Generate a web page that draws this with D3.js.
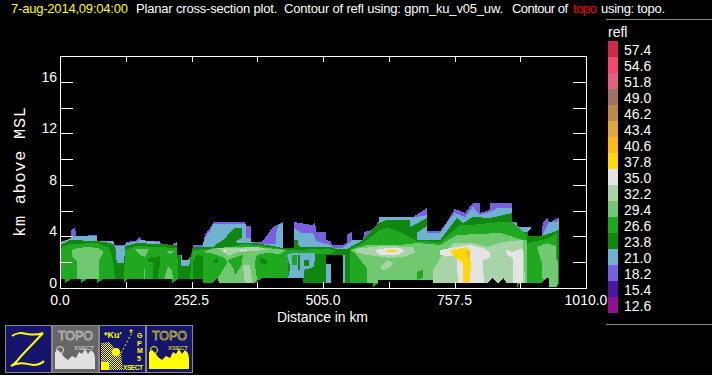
<!DOCTYPE html>
<html>
<head>
<meta charset="utf-8">
<script src="https://cdn.jsdelivr.net/npm/d3@7"></script>
<style>
html, body { margin: 0; padding: 0; background: #000; overflow: hidden; }
svg { display: block; }
text { font-family: "Liberation Sans", Arial, sans-serif; fill: #fff; white-space: pre; }
</style>
</head>
<body>
<script>
// legend
const levels = [57.4, 54.6, 51.8, 49.0, 46.2, 43.4, 40.6, 37.8, 35.0, 32.2, 29.4, 26.6, 23.8, 21.0, 18.2, 15.4, 12.6];
const levelColors = ["#d02848", "#f0486e", "#e06080", "#a07060", "#c08848", "#e0a838", "#ffb81c", "#ffd80c", "#e4e4e4",
    "#a8d4a8", "#70c870", "#20a820", "#108810", "#70b0d0", "#7860e0", "#4818a0", "#901090"];

// axis values
const xTicks = [126.25, 252.5, 378.75, 505, 631.25, 757.5, 883.75];
const xLabels = [0, 252.5, 505, 757.5, 1010];
const yTicks = [2, 4, 6, 8, 10, 12, 14, 16];
const yLabels = [0, 4, 8, 12, 16];

// contours as [km, km above MSL]
const echo182 = [[0,3.57],[13,3.72],[21,3.88],[21,4.42],[29,4.73],[31,4.03],[54,4.03],[54,4.11],[71,4.11],[71,3.65],[102,3.65],[102,3.34],[125,3.34],[127,3.57],[144,3.65],[154,3.96],[156,3.65],[192,3.65],[194,3.34],[215,3.34],[225,3.57],[225,2.56],[234,2.56],[234,2.17],[246,2.17],[248,2.33],[255,2.56],[255,3.34],[275,3.34],[278,4.11],[288,4.66],[296,5.12],[355,5.12],[357,4.81],[367,4.81],[367,3.57],[388,3.57],[409,4.73],[428,5.12],[428,3.10],[449,3.10],[449,5.12],[484,4.89],[490,5.04],[492,4.35],[511,4.35],[511,3.72],[520,3.65],[522,3.34],[543,3.34],[551,3.49],[551,4.11],[561,4.35],[561,3.72],[582,3.72],[584,4.35],[599,4.50],[612,5.12],[612,5.51],[678,5.51],[705,6.21],[705,4.42],[730,4.42],[743,5.12],[758,6.13],[778,5.82],[793,6.60],[806,6.60],[806,5.82],[826,6.05],[826,6.60],[868,6.60],[868,5.12],[877,5.12],[879,4.73],[906,4.73],[899,4.35],[899,4.03],[925,4.03],[927,5.04],[937,5.43],[939,5.04],[956,5.43],[958,5.43],[958,0],[0,0]];
const echo210 = [[0,3.57],[13,3.72],[21,3.88],[31,4.03],[71,4.03],[71,3.65],[102,3.65],[105,3.26],[125,3.26],[127,3.49],[148,3.57],[154,3.72],[192,3.57],[194,3.26],[215,3.26],[225,3.49],[225,2.56],[234,2.56],[234,2.17],[246,2.17],[255,2.56],[255,3.18],[273,3.18],[278,3.88],[288,4.42],[294,4.96],[357,4.96],[357,3.88],[367,3.88],[367,3.57],[388,3.41],[415,3.41],[415,4.27],[419,4.89],[428,5.04],[428,3.10],[449,3.10],[449,4.66],[465,4.27],[486,4.27],[492,3.65],[511,3.41],[520,3.34],[524,3.10],[541,3.10],[551,3.34],[561,3.72],[582,3.72],[588,4.00],[612,5.04],[612,5.51],[685,5.51],[705,5.65],[705,4.27],[730,4.27],[743,5.04],[758,5.82],[778,5.51],[793,6.30],[806,5.67],[826,5.90],[840,6.21],[868,6.21],[868,5.12],[877,5.04],[877,4.73],[906,4.73],[899,4.35],[899,4.03],[925,4.03],[931,4.50],[939,5.12],[952,5.12],[958,5.28],[958,0],[0,0]];
const echo238 = [[0,3.34],[19,3.72],[71,3.65],[96,3.49],[106,3.26],[109,1.94],[123,1.94],[125,3.26],[148,3.49],[225,3.34],[225,2.56],[232,2.56],[232,1.71],[248,1.71],[250,2.17],[255,3.18],[296,3.18],[298,3.34],[313,3.72],[336,4.66],[349,4.66],[349,3.88],[336,3.57],[345,3.49],[378,3.49],[397,3.34],[428,3.10],[449,3.10],[449,3.72],[457,3.72],[457,3.34],[461,3.18],[518,3.18],[532,3.03],[551,3.03],[582,3.72],[611,5.04],[628,5.28],[672,5.28],[672,4.73],[705,5.43],[705,4.81],[685,4.27],[685,3.72],[730,3.72],[762,5.43],[774,5.04],[793,5.51],[826,5.43],[868,5.82],[870,4.35],[899,4.35],[899,4.03],[925,4.03],[958,4.50],[958,0],[0,0]];
const echo266a = [[2,3.10],[19,3.41],[71,3.49],[96,3.10],[102,1.94],[106,0.7],[123,0.7],[125,2.95],[148,3.26],[225,3.10],[227,0.7],[250,0.7],[252,2.3],[255,2.95],[326,3.18],[351,3.41],[357,3.41],[378,3.34],[438,2.95],[438,0],[2,0]];
const echo266b = [[438,2.95],[518,3.03],[530,2.87],[518,2.64],[438,2.64]];
const echo266c = [[557,3.03],[582,3.49],[614,4.50],[628,4.66],[643,4.50],[653,4.35],[685,3.65],[730,3.57],[768,4.89],[787,4.89],[845,5.12],[868,5.12],[897,4.11],[897,0],[557,0]];
const echo266d = [[897,3.49],[916,3.65],[935,3.80],[954,4.27],[954,0],[897,0]];
const echo266e = [[685,1.24],[697,1.40],[697,0.78],[685,0.62]];
const echo266f = [[321,2.17],[351,2.56],[349,1.78],[336,1.01],[332,1.63]];
const echo238a = [[169,2.33],[192,2.48],[192,1.94],[188,0.7],[179,0.7],[179,2.02],[169,2.02]];
const echo238b = [[296,2.17],[300,2.33],[303,2.17],[303,1.94],[296,1.94]];
const echo238c = [[384,2.41],[397,2.17],[397,1.78],[384,1.94]];
const echo238d = [[255,2.02],[263,2.56],[275,2.48],[275,0.7],[255,0.7]];
const echo294a = [[23,2.95],[33,3.10],[54,3.18],[73,3.10],[84,2.79],[75,2.17],[75,0.7],[33,0.7],[33,2.02],[23,2.41]];
const echo294b = [[144,3.03],[171,3.03],[163,2.41],[154,2.56]];
const echo294c = [[204,2.87],[221,2.87],[211,2.64]];
const echo294d = [[200,0.7],[207,1.63],[215,1.40],[217,0.7]];
const echo294e = [[161,1.47],[163,1.47],[163,0.7],[161,0.7]];
const echo294f = [[273,2.79],[298,3.10],[332,3.18],[378,3.18],[436,2.95],[422,2.64],[397,2.72],[378,2.56],[374,1.94],[378,0.7],[374,0.39],[305,0.39],[303,0.78],[321,1.94],[317,2.33],[288,2.72]];
const echo294g = [[557,2.95],[589,3.34],[653,3.34],[685,3.49],[730,3.34],[762,4.11],[845,4.27],[889,3.72],[897,3.72],[897,0.39],[589,0.39],[589,1.55],[566,2.72]];
const echo294h = [[916,3.18],[935,3.49],[952,3.26],[952,2.33],[956,2.02],[956,0.39],[952,0.08],[939,0.08],[939,0.7],[925,0.7],[925,1.94]];
const echo322a = [[298,3.10],[332,3.10],[378,3.18],[400,3.00],[378,2.87],[332,2.79],[317,2.87]];
const echo322b = [[351,1.78],[365,1.78],[369,0.39],[355,0.39]];
const echo322c = [[313,2.79],[340,2.80],[326,2.50]];
const echo322d = [[563,3.03],[620,3.26],[678,3.18],[682,2.72],[659,2.41],[634,2.33],[591,2.56],[572,2.72]];
const echo322e = [[614,1.55],[628,2.17],[639,1.94],[634,1.55],[620,1.40]];
const echo322f = [[716,0.39],[716,1.40],[734,2.56],[755,3.49],[793,3.49],[820,3.18],[851,3.57],[889,3.72],[893,0.39]];
const echo350a = [[313,2.95],[321,2.95],[321,2.79],[313,2.79]];
const echo350b = [[346,2.95],[359,2.95],[359,2.87],[346,2.87]];
const echo350c = [[605,2.95],[628,3.10],[653,3.10],[662,2.87],[647,2.56],[614,2.56]];
const echo350d = [[730,2.95],[749,3.10],[787,3.34],[812,3.10],[826,2.79],[826,2.33],[812,2.17],[814,0.39],[764,0.39],[762,2.41],[730,2.56]];
const echo350e = [[856,2.95],[870,2.79],[887,3.10],[889,2.79],[889,0.39],[870,0.39],[870,2.33],[858,2.56]];
const echo378a = [[628,2.95],[647,2.95],[647,2.79],[628,2.79]];
const echo378b = [[749,2.95],[783,3.18],[789,2.02],[787,0.39],[774,0.39],[774,1.94],[758,2.41],[753,2.56]];
const echo406a = [[781,2.95],[787,2.95],[787,2.33],[781,2.33]];
const patch210a = [[436,2.56],[447,2.72],[490,2.72],[488,1.63],[468,1.40],[468,0.78],[438,0.78],[442,1.63]];
const patch210b = [[511,1.86],[520,1.86],[520,0.39],[511,0.39]];
const patch210c = [[543,2.56],[547,2.56],[547,0.39],[543,0.39]];
const patch266a = [[445,2.56],[455,2.56],[455,1.78],[445,1.78]];
const patch238a = [[457,2.56],[461,2.56],[461,1.40],[457,1.40]];
const patch238b = [[468,2.2],[478,2.2],[478,1.7],[468,1.7]];
const noEcho = [[511,2.56],[543,2.56],[543,0],[520,0],[520,1.86],[511,1.86]];
const ground = [[0,0.70],[10,0.70],[10,0.39],[21,0.70],[40,0.70],[40,0.39],[52,0.70],[71,0.70],[71,0.39],[83,0.70],[123,0.70],[123,0.39],[129,0.70],[215,0.70],[215,0.39],[227,0.70],[275,0.70],[275,0.39],[292,0.39],[303,0.78],[305,0.39],[374,0.39],[388,0.78],[467,0.78],[467,0.39],[601,0.39],[601,0.03],[611,0.39],[611,0.62],[716,0.62],[716,0.39],[820,0.39],[831,0.78],[839,0.39],[843,0.39],[851,0.78],[858,0.39],[877,0.39],[877,0],[883,0.39],[925,0.39],[935,0.78],[939,0.78],[939,0.08],[954,0.08],[958,0.39],[1010,0.39],[1010,0],[0,0]];

// painted in this order, higher levels over lower ones
const layers = [
    [echo182, 18.2], [echo210, 21.0], [echo238, 23.8],
    [echo266a, 26.6], [echo266b, 26.6], [echo266c, 26.6], [echo266d, 26.6],
    [echo238d, 23.8],
    [echo294a, 29.4], [echo294b, 29.4], [echo294c, 29.4], [echo294d, 29.4], [echo294e, 29.4], [echo294f, 29.4], [echo294g, 29.4], [echo294h, 29.4],
    [echo266e, 26.6], [echo266f, 26.6], [echo238a, 23.8], [echo238b, 23.8], [echo238c, 23.8],
    [echo322a, 32.2], [echo322b, 32.2], [echo322c, 32.2], [echo322d, 32.2], [echo322e, 32.2], [echo322f, 32.2],
    [echo350a, 35.0], [echo350b, 35.0], [echo350c, 35.0], [echo350d, 35.0], [echo350e, 35.0],
    [echo378a, 37.8], [echo378b, 37.8], [echo406a, 40.6],
    [patch210a, 21.0], [patch210b, 21.0], [patch210c, 21.0], [patch266a, 26.6], [patch238a, 23.8], [patch238b, 23.8]
];

let svg = d3.select("body").append("svg")
    .attr("width", 712)
    .attr("height", 375);

let xScale = d3.scaleLinear().domain([0, 1010]).range([60, 586]);
let yScale = d3.scaleLinear().domain([0, 18]).range([288, 56]);
let colorScale = d3.scaleOrdinal(levels, levelColors);

let contourLine = d3.line()
    .x(d => xScale(d[0]))
    .y(d => yScale(d[1]));

let plot = svg.append("g").attr("shape-rendering", "crispEdges");

plot.selectAll(".contour")
    .data(layers)
    .join("path")
    .attr("class", "contour")
    .attr("d", d => contourLine(d[0]) + "Z")
    .attr("fill", d => colorScale(d[1]));

plot.append("path").attr("d", contourLine(noEcho) + "Z").attr("fill", "#000");
plot.append("path").attr("d", contourLine(ground) + "Z").attr("fill", "#000");

// frame and ticks
let ticks = svg.append("g")
    .attr("stroke", "#fff")
    .attr("shape-rendering", "crispEdges");

[[60, 73], [573, 586]].forEach(side => {
    ticks.selectAll(null)
        .data(yTicks)
        .join("line")
        .attr("x1", side[0]).attr("x2", side[1])
        .attr("y1", d => Math.round(yScale(d)) + 0.5)
        .attr("y2", d => Math.round(yScale(d)) + 0.5);
});
[[282, 288], [56, 62]].forEach(side => {
    ticks.selectAll(null)
        .data(xTicks)
        .join("line")
        .attr("y1", side[0]).attr("y2", side[1])
        .attr("x1", d => Math.round(xScale(d)) + 0.5)
        .attr("x2", d => Math.round(xScale(d)) + 0.5);
});

svg.append("rect")
    .attr("x", 60.5).attr("y", 56.5)
    .attr("width", 526).attr("height", 232)
    .attr("fill", "none")
    .attr("stroke", "#fff")
    .attr("shape-rendering", "crispEdges");

svg.selectAll(".ylabel")
    .data(yLabels)
    .join("text")
    .attr("class", "ylabel")
    .attr("x", 57)
    .attr("y", d => yScale(d))
    .attr("text-anchor", "end")
    .attr("font-size", 14)
    .text(d => d);

svg.selectAll(".xlabel")
    .data(xLabels)
    .join("text")
    .attr("class", "xlabel")
    .attr("x", d => xScale(d))
    .attr("y", 305)
    .attr("text-anchor", "middle")
    .attr("font-size", 14)
    .text(d => d3.format(".1f")(d));

svg.append("text")
    .attr("x", 277).attr("y", 322)
    .attr("font-size", 14)
    .attr("textLength", 91)
    .text("Distance in km");

svg.append("text")
    .attr("transform", "translate(25,237) rotate(-90)")
    .style("font-family", "'Liberation Mono', monospace")
    .attr("font-size", 17)
    .attr("textLength", 130)
    .text("km above MSL");

// title
function titlePiece(label, x, width, color) {
    svg.append("text")
        .attr("x", x).attr("y", 13)
        .attr("font-size", 13)
        .attr("textLength", width)
        .style("fill", color)
        .text(label);
}
titlePiece("7-aug-2014,09:04:00", 11, 117, "#ffff00");
titlePiece("Planar cross-section plot.  Contour of refl using: gpm_ku_v05_uw.", 136, 367, "#fff");
titlePiece("Contour of", 512, 56, "#fff");
titlePiece("topo", 573, 24, "#ff0000");
titlePiece("using: topo.", 601, 64, "#fff");

// legend
svg.append("line").attr("x1", 606).attr("x2", 712).attr("y1", 19.5).attr("y2", 19.5).attr("stroke", "#888");
svg.append("line").attr("x1", 606).attr("x2", 712).attr("y1", 324.5).attr("y2", 324.5).attr("stroke", "#888");
svg.append("text").attr("x", 608).attr("y", 37).attr("font-size", 14).text("refl");

let legendY = d3.scaleBand().domain(levels).range([41, 313]);

svg.selectAll(".swatch")
    .data(levels)
    .join("rect")
    .attr("class", "swatch")
    .attr("x", 608)
    .attr("y", d => legendY(d))
    .attr("width", 10)
    .attr("height", legendY.bandwidth())
    .attr("fill", d => colorScale(d));

svg.selectAll(".legendlabel")
    .data(levels)
    .join("text")
    .attr("class", "legendlabel")
    .attr("x", 624)
    .attr("y", d => legendY(d) + 14)
    .attr("font-size", 14)
    .text(d => d3.format(".1f")(d));

// buttons under the plot
const buttonFills = ["#15156e", "#666666", "#15156e", "#15156e"];

let buttons = svg.selectAll(".button")
    .data(buttonFills)
    .join("g")
    .attr("class", "button")
    .attr("transform", (d, i) => `translate(${5 + i * 47},325)`);

buttons.append("rect")
    .attr("x", 0.5).attr("y", 0.5)
    .attr("width", 46).attr("height", 47)
    .attr("fill", d => d)
    .attr("stroke", "#888")
    .attr("shape-rendering", "crispEdges");

let defs = svg.append("defs");
let dither = defs.append("pattern")
    .attr("id", "dither")
    .attr("width", 2).attr("height", 2)
    .attr("patternUnits", "userSpaceOnUse");
dither.append("rect").attr("width", 1).attr("height", 1).attr("fill", "#ffff00");
dither.append("rect").attr("x", 1).attr("y", 1).attr("width", 1).attr("height", 1).attr("fill", "#ffff00");

// Z icon
buttons.filter((d, i) => i == 0).append("path")
    .attr("d", "M7,11 C12,7 17,8 22,9 C28,10 33,10 38,8 C30,17 18,28 12,36 C10,38 8,40 6,41 C14,36 22,39 28,40 C32,40 36,39 39,36")
    .attr("fill", "none")
    .attr("stroke", "#ffff00")
    .attr("stroke-width", 2);

// topo icons
function drawTopo(button, color) {
    button.append("text")
        .attr("x", 6).attr("y", 15)
        .attr("font-size", 12.5)
        .attr("textLength", 35)
        .style("fill", "none")
        .style("stroke", color)
        .style("stroke-width", 0.5)
        .text("TOPO");
    button.append("text")
        .attr("x", 22).attr("y", 24.5)
        .attr("font-size", 6)
        .attr("textLength", 20)
        .style("fill", color)
        .text("XSECT");
    button.append("path")
        .attr("d", "M3,44 L3,27 L6,25 L10,29 L12,32 L16,35 L20,31 L24,33 L27,27 L30,29 L33,24 L36,29 L39,25 L42,28 L43,33 L43,44 Z")
        .attr("fill", color);
    button.append("circle")
        .attr("cx", 8).attr("cy", 25).attr("r", 3.5)
        .attr("fill", "none")
        .attr("stroke", color);
}
drawTopo(buttons.filter((d, i) => i == 1), "#e0e0e0");
drawTopo(buttons.filter((d, i) => i == 3), "#ffff00");

// GPM icon
let gpm = buttons.filter((d, i) => i == 2);
gpm.append("text").attr("x", 5).attr("y", 13).attr("font-size", 9).attr("font-weight", "bold").style("fill", "#ffff00").text("*Ku'");
gpm.append("path").attr("d", "M2,45 L2,18 L10,17 L16,24 L22,28 L24,45 Z").attr("fill", "url(#dither)");
gpm.append("circle").attr("cx", 17).attr("cy", 27).attr("r", 4).attr("fill", "#ffff00");
gpm.append("rect").attr("x", 2).attr("y", 37).attr("width", 8).attr("height", 8).attr("fill", "#ffff00");
gpm.append("line").attr("x1", 22).attr("y1", 28).attr("x2", 33).attr("y2", 8)
    .attr("stroke", "#ffff00").attr("stroke-dasharray", "2,2");
gpm.append("text").attr("x", 30).attr("y", 12).attr("font-size", 10).style("fill", "#ffff00").text("*");
const gpmLetters = ["G", "P", "M", "5"];
const gpmLetterY = [13, 20.5, 27.5, 36];
gpmLetters.forEach((c, i) => {
    gpm.append("text")
        .attr("x", 38).attr("y", gpmLetterY[i])
        .attr("font-size", 7).attr("font-weight", "bold")
        .style("fill", "#ffff00")
        .text(c);
});
gpm.append("text").attr("x", 24).attr("y", 44.5).attr("font-size", 6.5).attr("font-weight", "bold").attr("textLength", 20).style("fill", "#ffff00").text("XSECT");
</script>
</body>
</html>
